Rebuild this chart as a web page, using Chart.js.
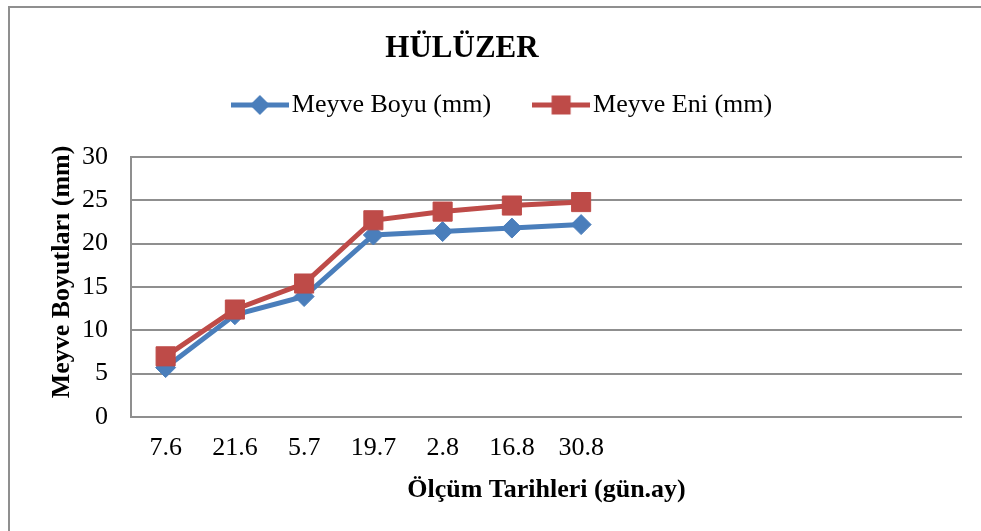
<!DOCTYPE html>
<html lang="tr">
<head>
<meta charset="utf-8">
<title>HÜLÜZER</title>
<script src="https://cdn.jsdelivr.net/npm/chart.js@4.4.1/dist/chart.umd.min.js"></script>
<style>
  html, body { margin: 0; padding: 0; background: #fff; }
  #wrap { position: relative; width: 981px; height: 531px; overflow: hidden; }
  /* chart frame, only left and top edges are visible */
  #frame { position: absolute; left: 8px; top: 6px; width: 1000px; height: 560px;
           border-left: 2px solid #8f8f8f; border-top: 2px solid #8f8f8f; }
  #chart { position: absolute; left: 0; top: 0; }
</style>
</head>
<body>
<div id="wrap">
  <div id="frame"></div>
  <canvas id="chart" width="981" height="531"></canvas>
</div>
<script>
// measuring dates (day.month), extra empty slots keep the axis wide
const dates = ['7.6', '21.6', '5.7', '19.7', '2.8', '16.8', '30.8', '', '', '', '', ''];

// fruit length and width in mm
const meyveBoyu = [5.7, 11.8, 13.9, 21.0, 21.4, 21.8, 22.2];
const meyveEni  = [7.0, 12.4, 15.4, 22.7, 23.7, 24.4, 24.8];

const yTicks = { min: 0, max: 30, step: 5 };

const serif = "'Liberation Serif', 'Times New Roman', serif";
const BLUE = '#4a7ebb';
const RED = '#be4b48';
const GRID = '#8f8f8f';

// little line + marker picture for the legend entries
function swatch(color, shape) {
  const c = document.createElement('canvas');
  c.width = 58;
  c.height = 24;
  const g = c.getContext('2d');
  g.strokeStyle = color;
  g.fillStyle = color;
  g.lineWidth = 5;
  g.beginPath();
  g.moveTo(0, 12);
  g.lineTo(58, 12);
  g.stroke();
  g.beginPath();
  if (shape === 'diamond') {
    g.moveTo(29, 2); g.lineTo(39, 12); g.lineTo(29, 22); g.lineTo(19, 12);
  } else {
    g.rect(19.5, 2.5, 19, 19);
  }
  g.closePath();
  g.fill();
  return c;
}
const swatches = [swatch(BLUE, 'diamond'), swatch(RED, 'square')];

// chart title and the rotated y axis title
const headings = {
  id: 'headings',
  afterDraw(chart) {
    const ctx = chart.ctx;
    ctx.save();
    ctx.fillStyle = '#000';
    ctx.textAlign = 'center';
    ctx.textBaseline = 'middle';
    ctx.font = 'bold 31px ' + serif;
    ctx.fillText('HÜLÜZER', 462, 49);
    ctx.translate(62, 272);
    ctx.rotate(-Math.PI / 2);
    ctx.font = 'bold 26px ' + serif;
    ctx.fillText('Meyve Boyutları (mm)', 0, 0);
    ctx.restore();
  }
};

const ctx = document.querySelector('#chart').getContext('2d');
const chart = new Chart(ctx, {
  type: 'line',
  data: {
    labels: dates,
    datasets: [{
      label: 'Meyve Boyu (mm)',
      data: meyveBoyu,
      borderColor: BLUE,
      backgroundColor: BLUE,
      borderWidth: 5,
      pointStyle: 'rectRot',
      pointRadius: 10,
      pointBorderWidth: 1,
      order: 1
    },
    {
      label: 'Meyve Eni (mm)',
      data: meyveEni,
      borderColor: RED,
      backgroundColor: RED,
      borderWidth: 5,
      pointStyle: 'rect',
      pointRadius: 13.5,
      pointBorderWidth: 1,
      order: 0
    }]
  },
  plugins: [headings],
  options: {
    responsive: false,
    animation: false,
    events: [],
    layout: { padding: { top: 41, left: 51, right: 19, bottom: 0 } },
    plugins: {
      title: { display: false },
      // empty box under the legend, just for spacing
      subtitle: {
        display: true,
        text: '',
        weight: 500,
        padding: 0,
        font: { size: 29, lineHeight: 1 }
      },
      tooltip: { enabled: false },
      legend: {
        position: 'top',
        labels: {
          usePointStyle: true,
          pointStyleWidth: 38,
          padding: 51,
          color: '#000',
          font: { family: serif, size: 26 },
          sort: (a, b) => a.datasetIndex - b.datasetIndex,
          generateLabels(chart) {
            const items = Chart.defaults.plugins.legend.labels.generateLabels(chart);
            items.forEach(item => { item.pointStyle = swatches[item.datasetIndex]; });
            return items;
          }
        }
      }
    },
    scales: {
      x: {
        offset: true,
        grid: { display: false, drawTicks: false },
        border: { display: false },
        ticks: {
          color: '#000',
          font: { family: serif, size: 26 },
          padding: 16,
          autoSkip: false,
          maxRotation: 0
        },
        title: {
          display: true,
          text: 'Ölçüm Tarihleri (gün.ay)',
          color: '#000',
          font: { family: serif, size: 26, weight: 'bold' },
          padding: { top: 0, bottom: 25 }
        },
        afterFit(scale) { scale.height = 114; }
      },
      y: {
        min: yTicks.min,
        max: yTicks.max,
        grid: { color: GRID, lineWidth: 2, drawTicks: false },
        border: { display: true, color: GRID, width: 2 },
        ticks: {
          stepSize: yTicks.step,
          color: '#000',
          font: { family: serif, size: 26 },
          padding: 23
        },
        afterFit(scale) { scale.width = 80; }
      }
    }
  }
});
</script>
</body>
</html>
